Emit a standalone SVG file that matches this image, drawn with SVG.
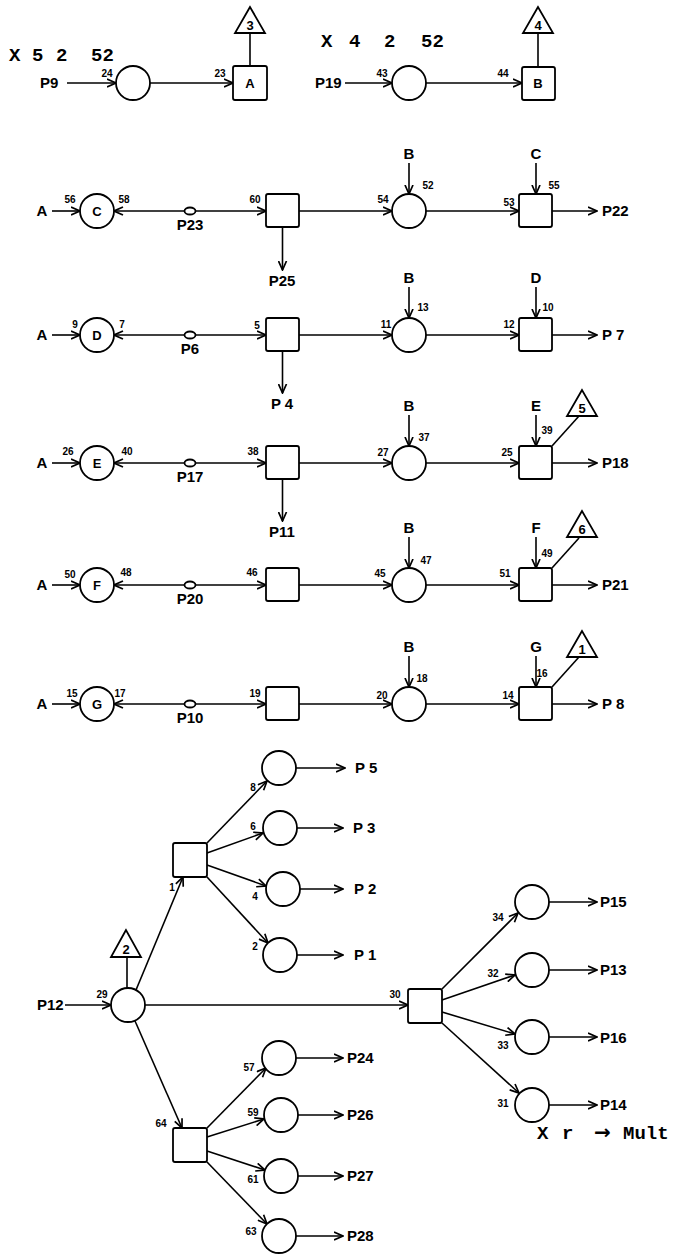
<svg xmlns="http://www.w3.org/2000/svg" width="676" height="1254" viewBox="0 0 676 1254">
<defs>
<marker id="ah" viewBox="0 0 10 10" refX="9.5" refY="5" markerWidth="10" markerHeight="10" markerUnits="userSpaceOnUse" orient="auto">
<path d="M0.5,1 L9.5,5 L0.5,9" fill="none" stroke="#000" stroke-width="1.7"/>
</marker>
<style>
.ln{stroke:#000;stroke-width:1.6;fill:none}
.ar{marker-end:url(#ah)}
.nd{fill:#fff;stroke:#000;stroke-width:1.8}
text{font-family:"Liberation Sans",Arial,sans-serif;fill:#000}
.lb{font-size:15px;font-weight:bold}
.lc{font-size:15px;font-weight:bold;text-anchor:middle}
.sm{font-size:10px;font-weight:bold;text-anchor:middle}
.in{font-size:13px;font-weight:bold;text-anchor:middle}
.ty{font-family:"Liberation Mono","Courier New",monospace;font-size:19px;font-weight:bold}
.arw{font-family:"DejaVu Sans",sans-serif;font-size:20px;font-weight:bold}
</style>
</defs>
<rect width="676" height="1254" fill="#fff"/>

<g id="connectors">
<!-- row 0 -->
<path class="ln ar" d="M67,83 H116"/>
<path class="ln ar" d="M150,83 H233"/>
<path class="ln" d="M250,66 V33"/>
<path class="ln ar" d="M345,83 H392"/>
<path class="ln ar" d="M426,83 H522"/>
<path class="ln" d="M538,67 V33"/>
<!-- row C -->
<path class="ln ar" d="M52,211 H80"/>
<path class="ln ar" d="M184.5,211 H114"/>
<path class="ln ar" d="M195.5,211 H266"/>
<path class="ln ar" d="M299,211 H392"/>
<path class="ln ar" d="M426,211 H519"/>
<path class="ln ar" d="M552,211 H597"/>
<path class="ln ar" d="M409,163 V194"/>
<path class="ln ar" d="M536,163 V194"/>
<path class="ln ar" d="M282.5,228 V270"/>
<!-- row D -->
<path class="ln ar" d="M52,335 H80"/>
<path class="ln ar" d="M184.5,335 H114"/>
<path class="ln ar" d="M195.5,335 H266"/>
<path class="ln ar" d="M299,335 H392"/>
<path class="ln ar" d="M426,335 H519"/>
<path class="ln ar" d="M552,335 H597"/>
<path class="ln ar" d="M409,287 V318"/>
<path class="ln ar" d="M536,287 V318"/>
<path class="ln ar" d="M282.5,352 V393"/>
<!-- row E -->
<path class="ln ar" d="M52,463 H80"/>
<path class="ln ar" d="M184.5,463 H114"/>
<path class="ln ar" d="M195.5,463 H266"/>
<path class="ln ar" d="M299,463 H392"/>
<path class="ln ar" d="M426,463 H519"/>
<path class="ln ar" d="M552,463 H597"/>
<path class="ln ar" d="M409,415 V446"/>
<path class="ln ar" d="M536,415 V446"/>
<path class="ln ar" d="M282.5,480 V521"/>
<path class="ln" d="M552,446 L579,416"/>
<!-- row F -->
<path class="ln ar" d="M52,585 H80"/>
<path class="ln ar" d="M184.5,585 H114"/>
<path class="ln ar" d="M195.5,585 H266"/>
<path class="ln ar" d="M299,585 H392"/>
<path class="ln ar" d="M426,585 H519"/>
<path class="ln ar" d="M552,585 H597"/>
<path class="ln ar" d="M409,537 V568"/>
<path class="ln ar" d="M536,537 V568"/>
<path class="ln" d="M552,568 L579,538"/>
<!-- row G -->
<path class="ln ar" d="M52,704 H80"/>
<path class="ln ar" d="M184.5,704 H114"/>
<path class="ln ar" d="M195.5,704 H266"/>
<path class="ln ar" d="M299,704 H392"/>
<path class="ln ar" d="M426,704 H519"/>
<path class="ln ar" d="M552,704 H597"/>
<path class="ln ar" d="M409,656 V687"/>
<path class="ln ar" d="M536,656 V687"/>
<path class="ln" d="M552,687 L579,657"/>
<!-- tree -->
<path class="ln ar" d="M65,1005 H111"/>
<path class="ln" d="M127,957 V988"/>
<path class="ln ar" d="M136,990 L183,877"/>
<path class="ln ar" d="M145,1005 H408"/>
<path class="ln ar" d="M135,1021 L182,1128"/>
<path class="ln ar" d="M207,843 L267,781"/>
<path class="ln ar" d="M207,853 L263,833"/>
<path class="ln ar" d="M207,865 L266,886"/>
<path class="ln ar" d="M207,877 L268,943"/>
<path class="ln ar" d="M296,768 H345"/>
<path class="ln ar" d="M297,828 H343"/>
<path class="ln ar" d="M300,889 H343"/>
<path class="ln ar" d="M297,955 H343"/>
<path class="ln ar" d="M442,989 L518,913"/>
<path class="ln ar" d="M442,1000 L515,975"/>
<path class="ln ar" d="M442,1012 L515,1034"/>
<path class="ln ar" d="M442,1023 L519,1093"/>
<path class="ln ar" d="M549,902 H597"/>
<path class="ln ar" d="M549,970 H597"/>
<path class="ln ar" d="M549,1037 H597"/>
<path class="ln ar" d="M549,1105 H597"/>
<path class="ln ar" d="M207,1128 L266,1068"/>
<path class="ln ar" d="M207,1137 L264,1119"/>
<path class="ln ar" d="M207,1151 L265,1170"/>
<path class="ln ar" d="M207,1162 L267,1224"/>
<path class="ln ar" d="M296,1058 H343"/>
<path class="ln ar" d="M298,1115 H343"/>
<path class="ln ar" d="M298,1176 H343"/>
<path class="ln ar" d="M296,1236 H343"/>
</g>

<!-- top row -->
<g id="header-left"><text class="ty" y="61"><tspan x="9">X</tspan><tspan x="32">5</tspan><tspan x="56">2</tspan><tspan x="91">52</tspan></text></g>
<g id="header-right"><text class="ty" y="47"><tspan x="321">X</tspan><tspan x="349">4</tspan><tspan x="384">2</tspan><tspan x="421">52</tspan></text></g>
<g id="p9"><text class="lb" x="40" y="88">P9</text></g>
<g id="n24"><circle class="nd" cx="133" cy="83" r="17"/><text class="sm" x="107" y="77">24</text></g>
<g id="n23"><rect class="nd" x="233" y="66" width="34" height="34" rx="2"/><text class="in" x="250" y="88">A</text><text class="sm" x="220" y="77">23</text></g>
<g id="t3"><polygon class="nd" points="250,7 235,33 265,33"/><text class="in" x="250" y="30">3</text></g>
<g id="p19"><text class="lb" x="315" y="88">P19</text></g>
<g id="n43"><circle class="nd" cx="409" cy="83" r="17"/><text class="sm" x="382" y="77">43</text></g>
<g id="n44"><rect class="nd" x="522" y="67" width="33" height="33" rx="2"/><text class="in" x="538" y="88">B</text><text class="sm" x="503" y="77">44</text></g>
<g id="t4"><polygon class="nd" points="538,7 523,33 553,33"/><text class="in" x="538" y="30">4</text></g>

<!-- row C -->
<g id="rowC">
<text class="lc" x="42" y="216">A</text>
<g id="n56"><circle class="nd" cx="97" cy="211" r="17"/><text class="in" x="97" y="216">C</text><text class="sm" x="70" y="203">56</text><text class="sm" x="124" y="203">58</text></g>
<g id="p23"><ellipse class="nd" cx="190" cy="211" rx="5.5" ry="3.5"/><text class="lc" x="190" y="230">P23</text></g>
<g id="n60"><rect class="nd" x="266" y="194" width="33" height="33" rx="2"/><text class="sm" x="255" y="203">60</text></g>
<g id="n54"><circle class="nd" cx="409" cy="211" r="17"/><text class="sm" x="383" y="203">54</text><text class="sm" x="428" y="189">52</text></g>
<g id="n53"><rect class="nd" x="519" y="194" width="33" height="33" rx="2"/><text class="sm" x="509" y="206">53</text><text class="sm" x="554" y="189">55</text></g>
<text class="lc" x="409" y="159">B</text><text class="lc" x="536" y="159">C</text>
<text class="lc" x="282" y="286">P25</text>
<text class="lb" x="602" y="216">P22</text>
</g>

<!-- row D -->
<g id="rowD">
<text class="lc" x="42" y="340">A</text>
<g id="n9"><circle class="nd" cx="97" cy="335" r="17"/><text class="in" x="97" y="340">D</text><text class="sm" x="75" y="328">9</text><text class="sm" x="122" y="328">7</text></g>
<g id="p6"><ellipse class="nd" cx="190" cy="335" rx="5.5" ry="3.5"/><text class="lc" x="190" y="354">P6</text></g>
<g id="n5"><rect class="nd" x="266" y="318" width="33" height="33" rx="2"/><text class="sm" x="257" y="329">5</text></g>
<g id="n11"><circle class="nd" cx="409" cy="335" r="17"/><text class="sm" x="386" y="328">11</text><text class="sm" x="423" y="311">13</text></g>
<g id="n12"><rect class="nd" x="519" y="318" width="33" height="33" rx="2"/><text class="sm" x="509" y="328">12</text><text class="sm" x="548" y="311">10</text></g>
<text class="lc" x="409" y="283">B</text><text class="lc" x="536" y="283">D</text>
<text class="lc" x="282" y="409">P 4</text>
<text class="lb" x="602" y="340">P 7</text>
</g>

<!-- row E -->
<g id="rowE">
<text class="lc" x="42" y="468">A</text>
<g id="n26"><circle class="nd" cx="97" cy="463" r="17"/><text class="in" x="97" y="468">E</text><text class="sm" x="68" y="455">26</text><text class="sm" x="127" y="455">40</text></g>
<g id="p17"><ellipse class="nd" cx="190" cy="463" rx="5.5" ry="3.5"/><text class="lc" x="190" y="482">P17</text></g>
<g id="n38"><rect class="nd" x="266" y="446" width="33" height="33" rx="2"/><text class="sm" x="253" y="455">38</text></g>
<g id="n27"><circle class="nd" cx="409" cy="463" r="17"/><text class="sm" x="383" y="456">27</text><text class="sm" x="424" y="441">37</text></g>
<g id="n25"><rect class="nd" x="519" y="446" width="33" height="33" rx="2"/><text class="sm" x="507" y="456">25</text><text class="sm" x="547" y="434">39</text></g>
<g id="t5"><polygon class="nd" points="582,390 567,416 597,416"/><text class="in" x="582" y="413">5</text></g>
<text class="lc" x="409" y="411">B</text><text class="lc" x="536" y="411">E</text>
<text class="lc" x="282" y="537">P11</text>
<text class="lb" x="602" y="468">P18</text>
</g>

<!-- row F -->
<g id="rowF">
<text class="lc" x="42" y="590">A</text>
<g id="n50"><circle class="nd" cx="97" cy="585" r="17"/><text class="in" x="97" y="590">F</text><text class="sm" x="70" y="578">50</text><text class="sm" x="126" y="576">48</text></g>
<g id="p20"><ellipse class="nd" cx="190" cy="585" rx="5.5" ry="3.5"/><text class="lc" x="190" y="604">P20</text></g>
<g id="n46"><rect class="nd" x="266" y="568" width="33" height="33" rx="2"/><text class="sm" x="252" y="576">46</text></g>
<g id="n45"><circle class="nd" cx="409" cy="585" r="17"/><text class="sm" x="380" y="577">45</text><text class="sm" x="426" y="564">47</text></g>
<g id="n51"><rect class="nd" x="519" y="568" width="33" height="33" rx="2"/><text class="sm" x="505" y="577">51</text><text class="sm" x="547" y="557">49</text></g>
<g id="t6"><polygon class="nd" points="582,511 567,537 597,537"/><text class="in" x="582" y="534">6</text></g>
<text class="lc" x="409" y="533">B</text><text class="lc" x="536" y="533">F</text>
<text class="lb" x="602" y="590">P21</text>
</g>

<!-- row G -->
<g id="rowG">
<text class="lc" x="42" y="709">A</text>
<g id="n15"><circle class="nd" cx="97" cy="704" r="17"/><text class="in" x="97" y="709">G</text><text class="sm" x="72" y="697">15</text><text class="sm" x="120" y="697">17</text></g>
<g id="p10"><ellipse class="nd" cx="190" cy="704" rx="5.5" ry="3.5"/><text class="lc" x="190" y="723">P10</text></g>
<g id="n19"><rect class="nd" x="266" y="687" width="33" height="33" rx="2"/><text class="sm" x="255" y="697">19</text></g>
<g id="n20"><circle class="nd" cx="409" cy="704" r="17"/><text class="sm" x="382" y="699">20</text><text class="sm" x="422" y="682">18</text></g>
<g id="n14"><rect class="nd" x="519" y="687" width="33" height="33" rx="2"/><text class="sm" x="508" y="699">14</text><text class="sm" x="542" y="677">16</text></g>
<g id="t1"><polygon class="nd" points="582,631 567,657 597,657"/><text class="in" x="582" y="654">1</text></g>
<text class="lc" x="409" y="652">B</text><text class="lc" x="536" y="652">G</text>
<text class="lb" x="602" y="709">P 8</text>
</g>

<!-- tree -->
<g id="p12"><text class="lb" x="37" y="1010">P12</text></g>
<g id="t2"><polygon class="nd" points="126,930 111,957 141,957"/><text class="in" x="126" y="954">2</text></g>
<g id="n29"><circle class="nd" cx="128" cy="1005" r="17"/><text class="sm" x="102" y="998">29</text></g>
<g id="n1"><rect class="nd" x="173" y="843" width="34" height="34" rx="2"/><text class="sm" x="172" y="891">1</text></g>
<g id="n8"><circle class="nd" cx="279" cy="768" r="17"/><text class="sm" x="253" y="791">8</text><text class="lb" x="355" y="773">P 5</text></g>
<g id="n6"><circle class="nd" cx="280" cy="828" r="17"/><text class="sm" x="253" y="830">6</text><text class="lb" x="353" y="833">P 3</text></g>
<g id="n4"><circle class="nd" cx="283" cy="889" r="17"/><text class="sm" x="255" y="900">4</text><text class="lb" x="354" y="894">P 2</text></g>
<g id="n2"><circle class="nd" cx="280" cy="955" r="17"/><text class="sm" x="255" y="950">2</text><text class="lb" x="354" y="960">P 1</text></g>
<g id="n30"><rect class="nd" x="408" y="989" width="34" height="34" rx="2"/><text class="sm" x="395" y="998">30</text></g>
<g id="n34"><circle class="nd" cx="532" cy="902" r="17"/><text class="sm" x="498" y="921">34</text><text class="lb" x="600" y="907">P15</text></g>
<g id="n32"><circle class="nd" cx="532" cy="970" r="17"/><text class="sm" x="493" y="977">32</text><text class="lb" x="600" y="975">P13</text></g>
<g id="n33"><circle class="nd" cx="532" cy="1037" r="17"/><text class="sm" x="503" y="1049">33</text><text class="lb" x="600" y="1043">P16</text></g>
<g id="n31"><circle class="nd" cx="532" cy="1105" r="17"/><text class="sm" x="503" y="1107">31</text><text class="lb" x="600" y="1110">P14</text></g>
<g id="mult"><text class="ty" y="1139"><tspan x="537">X</tspan><tspan x="562">r</tspan><tspan class="arw" x="594">→</tspan><tspan x="623">Mult</tspan></text></g>
<g id="n64"><rect class="nd" x="173" y="1128" width="34" height="34" rx="2"/><text class="sm" x="161" y="1127">64</text></g>
<g id="n57"><circle class="nd" cx="279" cy="1058" r="17"/><text class="sm" x="249" y="1071">57</text><text class="lb" x="347" y="1063">P24</text></g>
<g id="n59"><circle class="nd" cx="281" cy="1115" r="17"/><text class="sm" x="253" y="1116">59</text><text class="lb" x="347" y="1120">P26</text></g>
<g id="n61"><circle class="nd" cx="281" cy="1176" r="17"/><text class="sm" x="253" y="1183">61</text><text class="lb" x="347" y="1181">P27</text></g>
<g id="n63"><circle class="nd" cx="279" cy="1236" r="17"/><text class="sm" x="251" y="1235">63</text><text class="lb" x="347" y="1241">P28</text></g>
</svg>
